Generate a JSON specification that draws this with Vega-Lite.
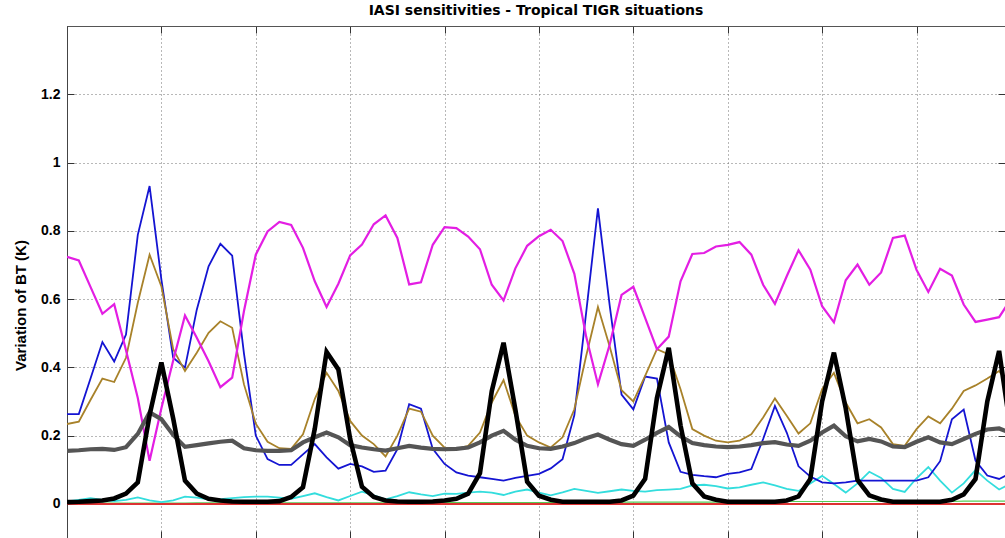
{
  "$schema": "https://vega.github.io/schema/vega-lite/v6.json",
  "usermeta": {"embedOptions": {"actions": false}},
  "width": 938,
  "height": 512,
  "autosize": {"type": "none"},
  "padding": {"left": 67, "top": 26, "right": 0, "bottom": 0},
  "background": "white",
  "title": {"text": "IASI sensitivities - Tropical TIGR situations", "font": "DejaVu Sans", "fontSize": 14, "fontWeight": "bold", "color": "#000000", "anchor": "middle", "frame": "group", "baseline": "alphabetic", "offset": 10, "dy": 13},
  "config": {"view": {"stroke": "#555555", "strokeWidth": 1}},
  "data": {"values": [
    {"i":0,"magenta":0.724,"blue":0.263,"brown":0.234,"black":0.005,"gray":0.155,"cyan":0.007,"green":0.002},
    {"i":1,"magenta":0.713,"blue":0.263,"brown":0.241,"black":0.006,"gray":0.157,"cyan":0.012,"green":0.002},
    {"i":2,"magenta":0.635,"blue":0.368,"brown":0.305,"black":0.008,"gray":0.16,"cyan":0.017,"green":0.002},
    {"i":3,"magenta":0.557,"blue":0.474,"brown":0.367,"black":0.01,"gray":0.161,"cyan":0.012,"green":0.002},
    {"i":4,"magenta":0.585,"blue":0.417,"brown":0.357,"black":0.016,"gray":0.158,"cyan":0.008,"green":0.002},
    {"i":5,"magenta":0.45,"blue":0.496,"brown":0.428,"black":0.03,"gray":0.166,"cyan":0.012,"green":0.002},
    {"i":6,"magenta":0.31,"blue":0.788,"brown":0.589,"black":0.063,"gray":0.205,"cyan":0.019,"green":0.002},
    {"i":7,"magenta":0.126,"blue":0.931,"brown":0.73,"black":0.26,"gray":0.268,"cyan":0.01,"green":0.002},
    {"i":8,"magenta":0.28,"blue":0.657,"brown":0.637,"black":0.414,"gray":0.248,"cyan":0.005,"green":0.002},
    {"i":9,"magenta":0.42,"blue":0.428,"brown":0.453,"black":0.25,"gray":0.202,"cyan":0.01,"green":0.002},
    {"i":10,"magenta":0.552,"blue":0.399,"brown":0.389,"black":0.068,"gray":0.167,"cyan":0.021,"green":0.002},
    {"i":11,"magenta":0.487,"blue":0.569,"brown":0.443,"black":0.03,"gray":0.172,"cyan":0.018,"green":0.003},
    {"i":12,"magenta":0.418,"blue":0.696,"brown":0.501,"black":0.015,"gray":0.177,"cyan":0.013,"green":0.003},
    {"i":13,"magenta":0.342,"blue":0.762,"brown":0.535,"black":0.01,"gray":0.182,"cyan":0.014,"green":0.003},
    {"i":14,"magenta":0.37,"blue":0.727,"brown":0.516,"black":0.007,"gray":0.185,"cyan":0.017,"green":0.003},
    {"i":15,"magenta":0.565,"blue":0.44,"brown":0.35,"black":0.006,"gray":0.163,"cyan":0.02,"green":0.003},
    {"i":16,"magenta":0.73,"blue":0.2,"brown":0.235,"black":0.006,"gray":0.157,"cyan":0.021,"green":0.003},
    {"i":17,"magenta":0.798,"blue":0.131,"brown":0.182,"black":0.006,"gray":0.155,"cyan":0.021,"green":0.003},
    {"i":18,"magenta":0.826,"blue":0.114,"brown":0.163,"black":0.008,"gray":0.155,"cyan":0.018,"green":0.003},
    {"i":19,"magenta":0.817,"blue":0.114,"brown":0.161,"black":0.02,"gray":0.157,"cyan":0.015,"green":0.003},
    {"i":20,"magenta":0.75,"blue":0.145,"brown":0.204,"black":0.049,"gray":0.18,"cyan":0.023,"green":0.003},
    {"i":21,"magenta":0.652,"blue":0.175,"brown":0.307,"black":0.22,"gray":0.195,"cyan":0.031,"green":0.003},
    {"i":22,"magenta":0.577,"blue":0.136,"brown":0.384,"black":0.445,"gray":0.209,"cyan":0.02,"green":0.003},
    {"i":23,"magenta":0.645,"blue":0.103,"brown":0.331,"black":0.394,"gray":0.195,"cyan":0.01,"green":0.003},
    {"i":24,"magenta":0.728,"blue":0.117,"brown":0.243,"black":0.19,"gray":0.172,"cyan":0.023,"green":0.003},
    {"i":25,"magenta":0.76,"blue":0.11,"brown":0.2,"black":0.05,"gray":0.165,"cyan":0.036,"green":0.003},
    {"i":26,"magenta":0.819,"blue":0.094,"brown":0.175,"black":0.02,"gray":0.16,"cyan":0.025,"green":0.003},
    {"i":27,"magenta":0.845,"blue":0.097,"brown":0.139,"black":0.01,"gray":0.156,"cyan":0.013,"green":0.003},
    {"i":28,"magenta":0.779,"blue":0.16,"brown":0.2,"black":0.007,"gray":0.163,"cyan":0.023,"green":0.003},
    {"i":29,"magenta":0.643,"blue":0.292,"brown":0.279,"black":0.006,"gray":0.17,"cyan":0.034,"green":0.003},
    {"i":30,"magenta":0.649,"blue":0.279,"brown":0.27,"black":0.006,"gray":0.165,"cyan":0.028,"green":0.003},
    {"i":31,"magenta":0.759,"blue":0.161,"brown":0.2,"black":0.007,"gray":0.161,"cyan":0.023,"green":0.004},
    {"i":32,"magenta":0.811,"blue":0.117,"brown":0.165,"black":0.01,"gray":0.16,"cyan":0.03,"green":0.004},
    {"i":33,"magenta":0.808,"blue":0.092,"brown":0.161,"black":0.015,"gray":0.161,"cyan":0.029,"green":0.004},
    {"i":34,"magenta":0.783,"blue":0.083,"brown":0.17,"black":0.03,"gray":0.165,"cyan":0.033,"green":0.004},
    {"i":35,"magenta":0.746,"blue":0.078,"brown":0.209,"black":0.09,"gray":0.18,"cyan":0.036,"green":0.004},
    {"i":36,"magenta":0.642,"blue":0.073,"brown":0.297,"black":0.33,"gray":0.2,"cyan":0.033,"green":0.004},
    {"i":37,"magenta":0.596,"blue":0.068,"brown":0.363,"black":0.472,"gray":0.214,"cyan":0.026,"green":0.004},
    {"i":38,"magenta":0.69,"blue":0.076,"brown":0.258,"black":0.277,"gray":0.188,"cyan":0.036,"green":0.004},
    {"i":39,"magenta":0.756,"blue":0.082,"brown":0.2,"black":0.065,"gray":0.17,"cyan":0.042,"green":0.004},
    {"i":40,"magenta":0.784,"blue":0.088,"brown":0.18,"black":0.024,"gray":0.163,"cyan":0.033,"green":0.004},
    {"i":41,"magenta":0.803,"blue":0.104,"brown":0.165,"black":0.012,"gray":0.161,"cyan":0.025,"green":0.004},
    {"i":42,"magenta":0.77,"blue":0.131,"brown":0.195,"black":0.006,"gray":0.168,"cyan":0.034,"green":0.004},
    {"i":43,"magenta":0.674,"blue":0.26,"brown":0.277,"black":0.006,"gray":0.178,"cyan":0.044,"green":0.004},
    {"i":44,"magenta":0.49,"blue":0.56,"brown":0.433,"black":0.006,"gray":0.192,"cyan":0.038,"green":0.004},
    {"i":45,"magenta":0.35,"blue":0.866,"brown":0.577,"black":0.006,"gray":0.203,"cyan":0.032,"green":0.004},
    {"i":46,"magenta":0.467,"blue":0.58,"brown":0.46,"black":0.006,"gray":0.188,"cyan":0.037,"green":0.005},
    {"i":47,"magenta":0.612,"blue":0.32,"brown":0.333,"black":0.01,"gray":0.175,"cyan":0.042,"green":0.005},
    {"i":48,"magenta":0.636,"blue":0.277,"brown":0.3,"black":0.024,"gray":0.17,"cyan":0.038,"green":0.005},
    {"i":49,"magenta":0.545,"blue":0.373,"brown":0.375,"black":0.073,"gray":0.188,"cyan":0.036,"green":0.005},
    {"i":50,"magenta":0.453,"blue":0.367,"brown":0.453,"black":0.31,"gray":0.208,"cyan":0.04,"green":0.005},
    {"i":51,"magenta":0.49,"blue":0.18,"brown":0.438,"black":0.457,"gray":0.225,"cyan":0.042,"green":0.005},
    {"i":52,"magenta":0.652,"blue":0.094,"brown":0.336,"black":0.23,"gray":0.198,"cyan":0.044,"green":0.005},
    {"i":53,"magenta":0.732,"blue":0.085,"brown":0.219,"black":0.06,"gray":0.178,"cyan":0.054,"green":0.005},
    {"i":54,"magenta":0.735,"blue":0.081,"brown":0.2,"black":0.022,"gray":0.172,"cyan":0.056,"green":0.005},
    {"i":55,"magenta":0.754,"blue":0.078,"brown":0.185,"black":0.012,"gray":0.168,"cyan":0.052,"green":0.005},
    {"i":56,"magenta":0.759,"blue":0.088,"brown":0.18,"black":0.006,"gray":0.166,"cyan":0.045,"green":0.005},
    {"i":57,"magenta":0.767,"blue":0.092,"brown":0.185,"black":0.006,"gray":0.168,"cyan":0.048,"green":0.005},
    {"i":58,"magenta":0.73,"blue":0.102,"brown":0.204,"black":0.006,"gray":0.172,"cyan":0.056,"green":0.005},
    {"i":59,"magenta":0.642,"blue":0.19,"brown":0.253,"black":0.006,"gray":0.178,"cyan":0.063,"green":0.005},
    {"i":60,"magenta":0.586,"blue":0.287,"brown":0.309,"black":0.006,"gray":0.181,"cyan":0.054,"green":0.005},
    {"i":61,"magenta":0.667,"blue":0.209,"brown":0.258,"black":0.01,"gray":0.174,"cyan":0.044,"green":0.007},
    {"i":62,"magenta":0.743,"blue":0.11,"brown":0.206,"black":0.022,"gray":0.17,"cyan":0.038,"green":0.007},
    {"i":63,"magenta":0.686,"blue":0.08,"brown":0.236,"black":0.073,"gray":0.185,"cyan":0.06,"green":0.007},
    {"i":64,"magenta":0.579,"blue":0.063,"brown":0.336,"black":0.3,"gray":0.209,"cyan":0.082,"green":0.007},
    {"i":65,"magenta":0.532,"blue":0.06,"brown":0.384,"black":0.443,"gray":0.229,"cyan":0.058,"green":0.007},
    {"i":66,"magenta":0.655,"blue":0.063,"brown":0.297,"black":0.28,"gray":0.198,"cyan":0.033,"green":0.007},
    {"i":67,"magenta":0.701,"blue":0.068,"brown":0.236,"black":0.07,"gray":0.183,"cyan":0.06,"green":0.007},
    {"i":68,"magenta":0.642,"blue":0.068,"brown":0.248,"black":0.025,"gray":0.19,"cyan":0.094,"green":0.007},
    {"i":69,"magenta":0.678,"blue":0.068,"brown":0.224,"black":0.013,"gray":0.183,"cyan":0.076,"green":0.007},
    {"i":70,"magenta":0.779,"blue":0.068,"brown":0.175,"black":0.006,"gray":0.168,"cyan":0.044,"green":0.007},
    {"i":71,"magenta":0.786,"blue":0.068,"brown":0.17,"black":0.006,"gray":0.166,"cyan":0.035,"green":0.007},
    {"i":72,"magenta":0.686,"blue":0.068,"brown":0.219,"black":0.006,"gray":0.182,"cyan":0.075,"green":0.007},
    {"i":73,"magenta":0.621,"blue":0.078,"brown":0.256,"black":0.006,"gray":0.195,"cyan":0.108,"green":0.007},
    {"i":74,"magenta":0.689,"blue":0.125,"brown":0.236,"black":0.006,"gray":0.18,"cyan":0.068,"green":0.007},
    {"i":75,"magenta":0.669,"blue":0.248,"brown":0.279,"black":0.012,"gray":0.175,"cyan":0.033,"green":0.007},
    {"i":76,"magenta":0.584,"blue":0.276,"brown":0.331,"black":0.028,"gray":0.19,"cyan":0.06,"green":0.008},
    {"i":77,"magenta":0.533,"blue":0.127,"brown":0.347,"black":0.073,"gray":0.205,"cyan":0.099,"green":0.008},
    {"i":78,"magenta":0.54,"blue":0.083,"brown":0.367,"black":0.3,"gray":0.218,"cyan":0.068,"green":0.008},
    {"i":79,"magenta":0.547,"blue":0.073,"brown":0.389,"black":0.448,"gray":0.221,"cyan":0.042,"green":0.008},
    {"i":80,"magenta":0.6,"blue":0.09,"brown":0.34,"black":0.21,"gray":0.208,"cyan":0.06,"green":0.008}
  ]},
  "layer": [
    {
      "transform": [{"fold": ["green"], "as": ["series", "value"]}],
      "mark": {"type": "line", "clip": true, "color": "#55cc55", "strokeWidth": 1.2},
      "encoding": {
        "x": {"field": "i", "type": "quantitative", "scale": {"domain": [0, 79.5], "nice": false, "zero": false},
              "axis": {"orient": "top", "values": [0, 8, 16, 24, 32, 40, 48, 56, 64, 72], "labels": false, "title": null, "grid": false, "tickSize": -7, "tickColor": "#333333", "domainColor": "#555555"}},
        "y": {"field": "value", "type": "quantitative", "scale": {"domain": [-0.1, 1.4], "nice": false, "zero": false}, "axis": null}
      }
    },
    {
      "mark": {"type": "rule", "color": "#dd3333", "strokeWidth": 1},
      "encoding": {
        "y": {"datum": 0, "type": "quantitative", "scale": {"domain": [-0.1, 1.4], "nice": false, "zero": false},
              "axis": {"orient": "right", "values": [0, 0.2, 0.4, 0.6, 0.8, 1, 1.2], "labels": false, "title": null, "grid": false, "tickSize": -7, "tickColor": "#333333", "domainColor": "#555555"}}
      }
    },
    {
      "transform": [{"fold": ["cyan", "blue", "brown"], "as": ["series", "value"]}],
      "mark": {"type": "line", "clip": true, "strokeWidth": 1.8},
      "encoding": {
        "x": {"field": "i", "type": "quantitative", "scale": {"domain": [0, 79.5], "nice": false, "zero": false},
              "axis": {"orient": "bottom", "values": [0, 8, 16, 24, 32, 40, 48, 56, 64, 72], "labels": false, "title": null, "grid": true, "gridDash": [1, 3], "gridColor": "#707070", "gridWidth": 1, "tickSize": -7, "tickColor": "#333333", "domainColor": "#555555"}},
        "y": {"field": "value", "type": "quantitative", "scale": {"domain": [-0.1, 1.4], "nice": false, "zero": false},
              "axis": {"orient": "left", "values": [0, 0.2, 0.4, 0.6, 0.8, 1, 1.2], "format": "~g", "grid": true, "gridDash": [1, 3], "gridColor": "#707070", "gridWidth": 1, "tickSize": -7, "tickColor": "#333333", "domainColor": "#444444", "labelFont": "Liberation Sans", "labelFontSize": 14, "labelFontWeight": "bold", "labelColor": "#000000", "labelPadding": 14,
                       "title": "Variation of BT (K)", "titleFont": "Liberation Sans", "titleFontSize": 15, "titleFontWeight": "bold", "titleColor": "#000000", "titleX": -47, "titleY": 279, "titleAngle": 270, "titleAlign": "center", "titleBaseline": "middle"}},
        "color": {"field": "series", "type": "nominal", "scale": {"domain": ["cyan", "blue", "brown", "magenta", "gray", "black"], "range": ["#33dddd", "#1414d2", "#a8822a", "#e31ee3", "#555555", "#000000"]}, "legend": null}
      }
    },
    {
      "transform": [{"fold": ["magenta"], "as": ["series", "value"]}],
      "mark": {"type": "line", "clip": true, "strokeWidth": 2.2},
      "encoding": {
        "x": {"field": "i", "type": "quantitative", "scale": {"domain": [0, 79.5], "nice": false, "zero": false}, "axis": null},
        "y": {"field": "value", "type": "quantitative", "scale": {"domain": [-0.1, 1.4], "nice": false, "zero": false}, "axis": null},
        "color": {"field": "series", "type": "nominal", "legend": null}
      }
    },
    {
      "transform": [{"fold": ["gray"], "as": ["series", "value"]}],
      "mark": {"type": "line", "clip": true, "strokeWidth": 4.2},
      "encoding": {
        "x": {"field": "i", "type": "quantitative", "scale": {"domain": [0, 79.5], "nice": false, "zero": false}, "axis": null},
        "y": {"field": "value", "type": "quantitative", "scale": {"domain": [-0.1, 1.4], "nice": false, "zero": false}, "axis": null},
        "color": {"field": "series", "type": "nominal", "legend": null}
      }
    },
    {
      "transform": [{"fold": ["black"], "as": ["series", "value"]}],
      "mark": {"type": "line", "clip": true, "strokeWidth": 4.6},
      "encoding": {
        "x": {"field": "i", "type": "quantitative", "scale": {"domain": [0, 79.5], "nice": false, "zero": false}, "axis": null},
        "y": {"field": "value", "type": "quantitative", "scale": {"domain": [-0.1, 1.4], "nice": false, "zero": false}, "axis": null},
        "color": {"field": "series", "type": "nominal", "legend": null}
      }
    }
  ],
  "resolve": {"axis": {"x": "independent", "y": "independent"}}
}
